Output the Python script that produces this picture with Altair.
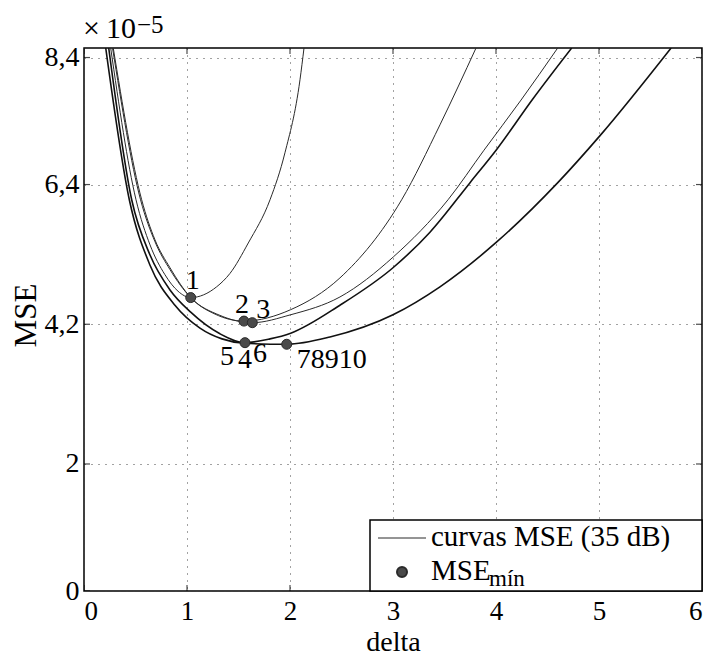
import altair as alt
import pandas as pd

# ---- data (MSE in units of 1e-5) ----
c1_delta = [0.259, 0.505, 0.641, 0.786, 0.913, 1.036, 1.288, 1.417, 1.595, 1.806, 1.951, 2.097, 2.136]
c1_mse   = [8.55, 6.16, 5.45, 4.98, 4.72, 4.62, 4.79, 5.00, 5.48, 6.16, 6.90, 8.05, 8.55]

c2_delta = [0.284, 0.560, 0.689, 0.835, 1.036, 1.272, 1.553, 2.007, 2.485, 3.084, 3.456, 3.806]
c2_mse   = [8.55, 6.16, 5.53, 5.09, 4.62, 4.36, 4.25, 4.43, 4.93, 6.16, 7.34, 8.55]

c3_delta = [0.277, 0.549, 0.689, 0.835, 1.036, 1.320, 1.634, 2.007, 2.485, 3.003, 3.534, 3.883, 4.243, 4.599]
c3_mse   = [8.55, 6.16, 5.50, 5.06, 4.62, 4.34, 4.225, 4.35, 4.63, 5.26, 6.16, 6.94, 7.73, 8.55]

c456_delta = [0.240, 0.463, 0.641, 0.835, 1.036, 1.320, 1.563, 1.806, 2.007, 2.485, 3.0, 3.359, 3.748, 4.01, 4.359, 4.735]
c456_mse   = [8.55, 6.16, 5.29, 4.74, 4.39, 4.05, 3.91, 3.97, 4.06, 4.50, 5.09, 5.65, 6.43, 6.96, 7.75, 8.55]

c78910_delta = [0.211, 0.440, 0.641, 0.883, 1.126, 1.340, 1.563, 1.971, 2.388, 3.0, 3.456, 4.01, 4.60, 5.01, 5.70]
c78910_mse   = [8.55, 6.16, 5.13, 4.50, 4.14, 3.97, 3.90, 3.885, 4.00, 4.35, 4.79, 5.50, 6.43, 7.17, 8.55]

min_delta = [1.036, 1.553, 1.634, 1.563, 1.968]
min_mse   = [4.62, 4.25, 4.225, 3.91, 3.885]

x_ticks = [0, 1, 2, 3, 4, 5, 6]
y_ticks = [0, 2, 4.2, 6.4, 8.4]
y_max = 8.55

FONT = "Liberation Serif"
W, H = 618, 543

thin = pd.DataFrame({
    "delta": c1_delta + c2_delta + c3_delta,
    "mse": c1_mse + c2_mse + c3_mse,
    "curve": ["1"] * len(c1_delta) + ["2"] * len(c2_delta) + ["3"] * len(c3_delta),
})
bold = pd.DataFrame({
    "delta": c456_delta + c78910_delta,
    "mse": c456_mse + c78910_mse,
    "curve": ["456"] * len(c456_delta) + ["78910"] * len(c78910_delta),
})
mins = pd.DataFrame({"delta": min_delta, "mse": min_mse})

xs = alt.Scale(domain=[0, 6], nice=False, zero=False)
ys = alt.Scale(domain=[0, y_max], nice=False, zero=False)

x_axis = alt.Axis(
    values=x_ticks, format="d", title="delta", grid=True, ticks=False, domain=False,
    labelFont=FONT, titleFont=FONT, labelFontSize=27, titleFontSize=28,
    labelPadding=28, labelBaseline="alphabetic", titleY=59, titleBaseline="alphabetic")
y_axis = alt.Axis(
    values=y_ticks, title="MSE", grid=True, ticks=False, domain=False,
    labelFont=FONT, titleFont=FONT, labelFontSize=28, titleFontSize=31,
    labelPadding=5, labelExpr="replace(format(datum.value, '.1~f'), '.', ',')",
    titleX=-58, titleY=267, titleAngle=-90, titleBaseline="middle")

X = alt.X("delta:Q", scale=xs, axis=x_axis)
Y = alt.Y("mse:Q", scale=ys, axis=y_axis)

lines_thin = alt.Chart(thin).mark_line(
    interpolate="monotone", color="#2a2a2a", strokeWidth=1, clip=True
).encode(x=X, y=Y, detail="curve:N")

lines_bold = alt.Chart(bold).mark_line(
    interpolate="monotone", color="#111111", strokeWidth=1.6, clip=True
).encode(x=X, y=Y, detail="curve:N")

pts = alt.Chart(mins).mark_point(
    filled=True, size=100, color="#4a4a4a", stroke="#2a2a2a", strokeWidth=1, opacity=1
).encode(x=X, y=Y)

# point labels (text, index of point, dx, dy, align)
label_specs = [
    ("1", 0, 2, -17, "center"),
    ("2", 1, -2, -16, "center"),
    ("3", 2, 11, -13, "center"),
    ("5", 3, -18, 14, "center"),
    ("4", 3, 0, 17, "center"),
    ("6", 3, 15, 11, "center"),
    ("78910", 4, 10, 16, "left"),
]
label_layers = []
for txt, i, dx, dy, al in label_specs:
    d = pd.DataFrame({"delta": [min_delta[i]], "mse": [min_mse[i]], "t": [txt]})
    label_layers.append(
        alt.Chart(d).mark_text(font=FONT, fontSize=28, dx=dx, dy=dy, align=al,
                               baseline="middle", color="black")
        .encode(x=X, y=Y, text="t:N")
    )

# inward major ticks on all four sides
xt = pd.DataFrame({"delta": x_ticks})
yt = pd.DataFrame({"mse": y_ticks})
tick_layers = []
for yd in [0, y_max]:
    tick_layers.append(alt.Chart(xt).mark_tick(orient="vertical", size=12, thickness=1.2,
                                               color="black", clip=True)
                       .encode(x=X, y=alt.datum(yd, scale=ys)))
for xd in [0, 6]:
    tick_layers.append(alt.Chart(yt).mark_tick(orient="horizontal", size=12, thickness=1.2,
                                               color="black", clip=True)
                       .encode(y=Y, x=alt.datum(xd, scale=xs)))

# legend (drawn as annotation)
one = pd.DataFrame({"a": [0]})
leg_box = alt.Chart(one).mark_rect(
    fill="white", stroke="black", strokeWidth=1.5
).encode(x=alt.value(286), x2=alt.value(W), y=alt.value(472), y2=alt.value(H))
leg_line = alt.Chart(one).mark_rule(color="#2a2a2a", strokeWidth=1).encode(
    x=alt.value(294), x2=alt.value(342), y=alt.value(490))
leg_pt = alt.Chart(one).mark_point(
    filled=True, size=100, color="#4a4a4a", stroke="#2a2a2a", opacity=1
).encode(x=alt.value(318), y=alt.value(524))
leg_t1 = alt.Chart(pd.DataFrame({"t": ["curvas MSE (35 dB)"]})).mark_text(
    font=FONT, fontSize=29, align="left", baseline="alphabetic", color="black"
).encode(x=alt.value(347), y=alt.value(498), text="t:N")
leg_t2 = alt.Chart(pd.DataFrame({"t": ["MSE"]})).mark_text(
    font=FONT, fontSize=29, align="left", baseline="alphabetic", color="black"
).encode(x=alt.value(347), y=alt.value(532), text="t:N")
leg_t3 = alt.Chart(pd.DataFrame({"t": ["mín"]})).mark_text(
    font=FONT, fontSize=23, align="left", baseline="alphabetic", color="black"
).encode(x=alt.value(405), y=alt.value(538), text="t:N")

# exponent annotation
exp1 = alt.Chart(pd.DataFrame({"t": ["×\u200910"]})).mark_text(
    font=FONT, fontSize=30, align="left", baseline="alphabetic", color="black"
).encode(x=alt.value(-1), y=alt.value(-10), text="t:N")
exp2 = alt.Chart(pd.DataFrame({"t": ["−5"]})).mark_text(
    font=FONT, fontSize=25, align="left", baseline="alphabetic", color="black"
).encode(x=alt.value(53), y=alt.value(-15), text="t:N")

chart = alt.layer(
    lines_thin, lines_bold, pts, *label_layers, *tick_layers,
    leg_box, leg_line, leg_pt, leg_t1, leg_t2, leg_t3, exp1, exp2
).properties(
    width=W, height=H,
    autosize=alt.AutoSizeParams(type="none"),
    padding={"left": 84, "top": 48, "right": 8, "bottom": 66},
).configure_view(
    stroke="black", strokeWidth=1.5
).configure_axis(
    labelFont=FONT, titleFont=FONT,
    labelColor="black", titleColor="black", titleFontWeight="normal",
    gridColor="#444444", gridDash=[1, 6], gridWidth=1, gridOpacity=1,
)

chart.save("out.html", embed_options={"renderer": "svg", "actions": False})
